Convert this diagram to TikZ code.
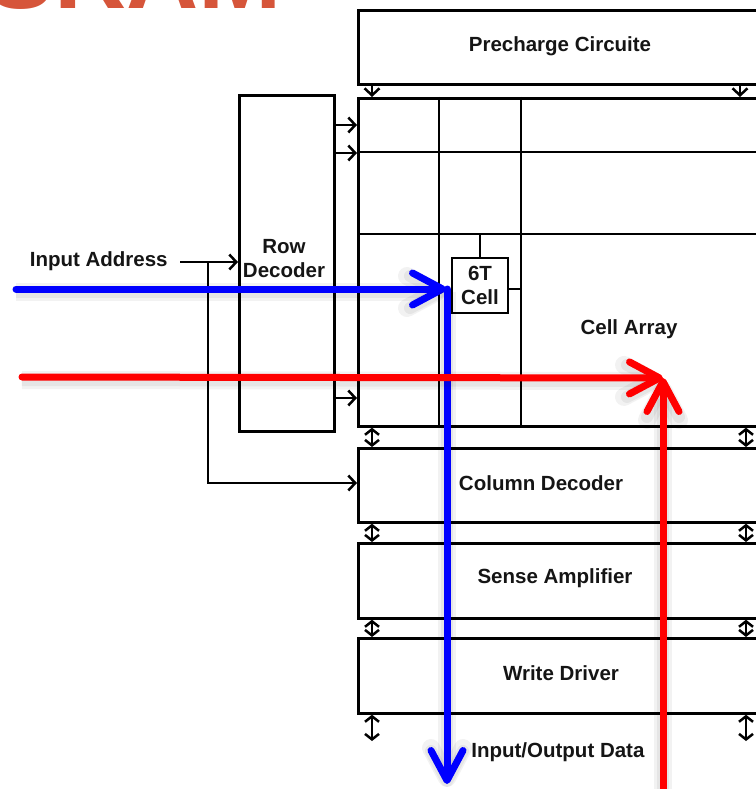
\documentclass[tikz,border=0pt]{standalone}
\usepackage{fontspec}
\setmainfont{Liberation Sans}
\usetikzlibrary{arrows.meta,calc}
\definecolor{titlered}{HTML}{D6553A}
\definecolor{ink}{HTML}{151515}
\definecolor{sblue}{HTML}{0000FF}
\definecolor{sred}{HTML}{FF0000}
\begin{document}
\begin{tikzpicture}[x=1pt,y=-1pt,
  line width=2.7pt, line join=miter,
  blk/.style={draw=black, line width=2.7pt, fill=white, inner sep=0pt, rectangle},
  lbl/.style={text=ink, font=\fontsize{20.5}{24}\selectfont\bfseries, inner sep=0pt, align=center},
  sarr/.style={-{Straight Barb[length=7pt,width=15pt,line width=2.5pt]}},
  darr/.style={{Straight Barb[length=5.5pt,width=14pt,line width=2.5pt]}-{Straight Barb[length=5.5pt,width=14pt,line width=2.5pt]}},
  bigline/.style={line width=7pt, line cap=round, line join=round,
    preaction={draw=black, opacity=0.05, line width=18pt, transform canvas={yshift=-3pt}},
    preaction={draw=black, opacity=0.05, line width=12pt, transform canvas={yshift=-3pt}}},
  bigtip/.style={-{Straight Barb[round,length=30pt,width=32pt]}}
]
\useasboundingbox (0,0) rectangle (755,789);
\fill[white] (0,0) rectangle (755,789);

% title (cut off at the top)
\node[anchor=base west, text=titlered, font=\fontsize{100}{100}\selectfont\bfseries, inner sep=0pt] (title) at (-14,9) {SRAM};

% blocks
\node[blk, minimum width=406pt, minimum height=74pt, anchor=north west] (pre) at (357,9) {};
\node[blk, minimum width=406pt, minimum height=328pt, anchor=north west] (ca) at (357,97) {};
\node[blk, minimum width=406pt, minimum height=74pt, anchor=north west] (cd) at (357,447) {};
\node[blk, minimum width=406pt, minimum height=75pt, anchor=north west] (sa) at (357,542) {};
\node[blk, minimum width=406pt, minimum height=75pt, anchor=north west] (wd) at (357,637) {};
\node[blk, minimum width=95pt, minimum height=336pt, anchor=north west] (rd) at (238,94) {};

% cell array grid
\coordinate (v1t) at (439,97);  \coordinate (v1b) at (439,425);
\coordinate (v2t) at (521,97);  \coordinate (v2b) at (521,425);
\coordinate (h1l) at (357,152); \coordinate (h1r) at (763,152);
\coordinate (h2l) at (357,234); \coordinate (h2r) at (763,234);
\draw (v1t) -- (v1b);
\draw (v2t) -- (v2b);
\draw (h1l) -- (h1r);
\draw (h2l) -- (h2r);

% 6T cell
\node[blk, minimum width=56pt, minimum height=55pt] (cell) at (480,285.5) {};
\node[lbl] (celltxt) at (480,285) {6T\\Cell};
\draw (cell.north) -- (cell.north |- h2l);
\draw (cell.east |- 0,289) -- (v2t |- 0,289);

% labels
\node[lbl] (pretxt) at (560,46) {Precharge Circuite};
\node[lbl] (rdtxt) at (284,259) {Row\\Decoder};
\node[lbl] (catxt) at (629,329) {Cell Array};
\node[lbl] (cdtxt) at (541,483) {Column Decoder};
\node[lbl] (satxt) at (555,578) {Sense Amplifier};
\node[lbl] (wdtxt) at (561,673) {Write Driver};
\node[lbl, anchor=west] (iotxt) at (470,752) {Input/Output Data};
\node[lbl, anchor=east] (iatxt) at (169,261) {Input Address};

% precharge to array
\draw[sarr] (pre.south -| 372,0) -- (ca.north -| 372,0);
\draw[sarr] (pre.south -| 740,0) -- (ca.north -| 740,0);

% row decoder to array
\draw[sarr] (rd.east |- 0,125) -- (ca.west |- 0,125);
\draw[sarr] (rd.east |- 0,153) -- (ca.west |- 0,153);
\draw[sarr] (rd.east |- 0,398) -- (ca.west |- 0,398);

% input address
\coordinate (iastart) at (180,262);
\coordinate (split) at (208,262);
\draw[sarr] (iastart) -- (rd.west |- iastart);
\draw[sarr] (split) -- (208,483) -- (cd.west |- 0,483);

% double arrows between blocks
\foreach \xx in {372,746}{
  \draw[darr] (ca.south -| \xx,0) -- (cd.north -| \xx,0);
  \draw[darr] (cd.south -| \xx,0) -- (sa.north -| \xx,0);
  \draw[darr] (sa.south -| \xx,0) -- (wd.north -| \xx,0);
  \draw[darr] (wd.south -| \xx,0) -- (\xx,741);
}

% blue path (access to the 6T cell)
\coordinate (bstart) at (16,289);
\coordinate (bcorner) at (446,289);
\coordinate (bend) at (447,784);
\draw[bigline, sblue, bigtip] (bstart) -- (bcorner);
\draw[bigline, sblue, bigtip] (447,289) -- (bend);

% red paths
\coordinate (rstart) at (22,377);
\coordinate (rmeet) at (663,378);
\coordinate (rbottom) at (663,800);
\draw[bigline, sred, bigtip] (rstart) -- (rmeet);
\draw[bigline, sred, bigtip] (rbottom) -- (rmeet);
\end{tikzpicture}
\end{document}
